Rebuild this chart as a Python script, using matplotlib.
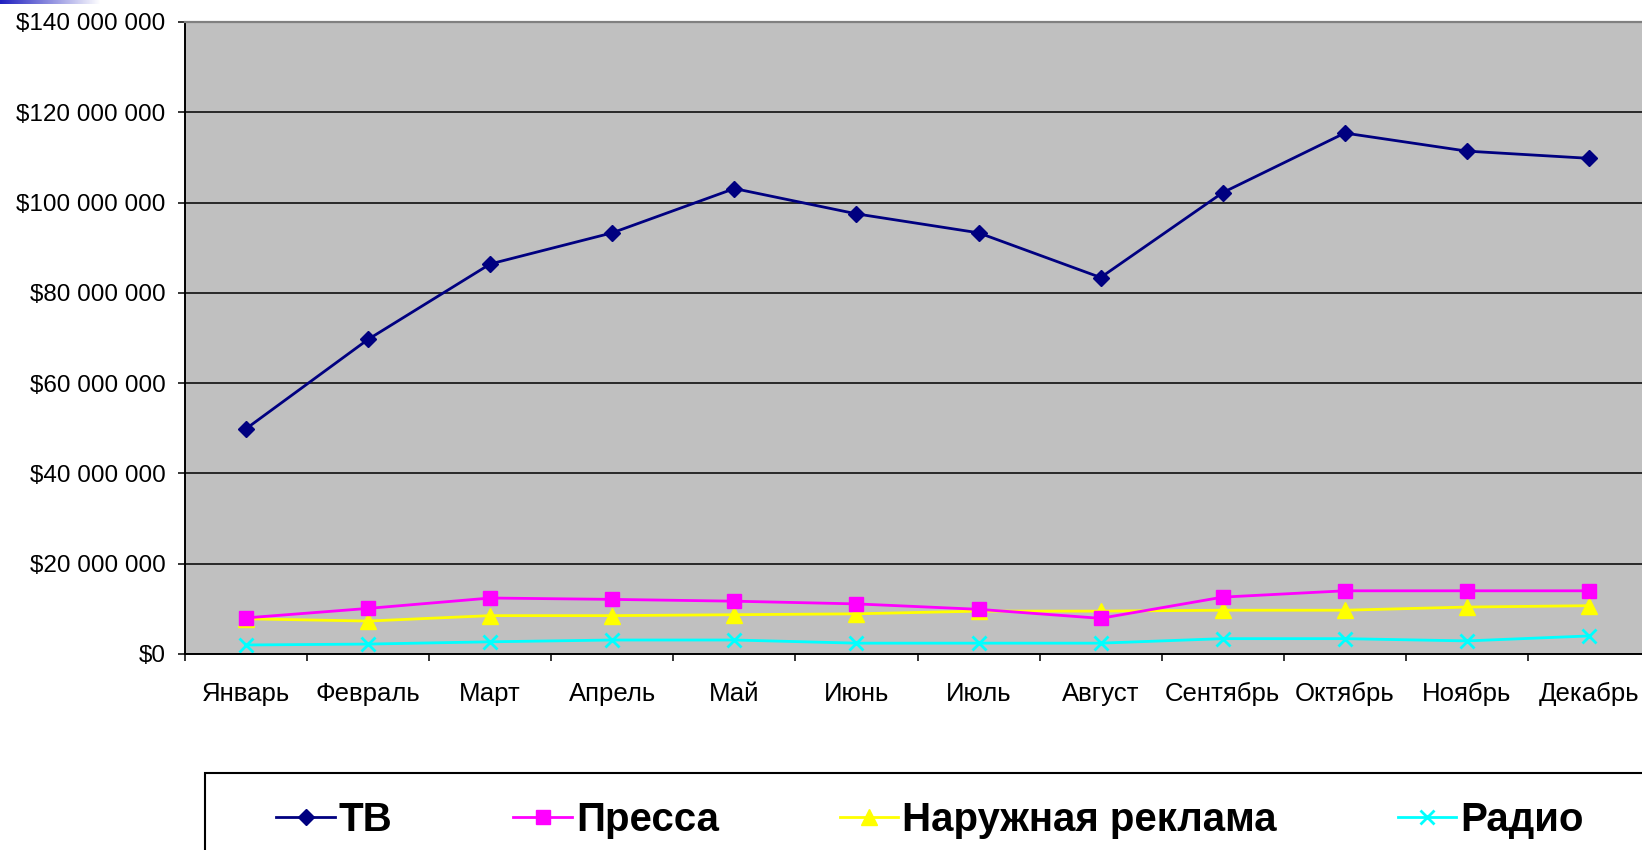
import numpy as np
import matplotlib
matplotlib.use("Agg")
import matplotlib.pyplot as plt
from matplotlib.patches import Rectangle
from matplotlib.ticker import FuncFormatter

months = ['Январь', 'Февраль', 'Март', 'Апрель', 'Май', 'Июнь',
          'Июль', 'Август', 'Сентябрь', 'Октябрь', 'Ноябрь', 'Декабрь']

# values in millions of dollars
tv = [49.9, 69.7, 86.4, 93.3, 103.1, 97.5, 93.3, 83.4, 102.2, 115.4, 111.4, 109.8]
press = [8.0, 10.1, 12.4, 12.1, 11.7, 11.1, 9.9, 7.9, 12.6, 14.0, 14.0, 14.0]
outdoor = [7.8, 7.3, 8.5, 8.5, 8.7, 8.9, 9.5, 9.5, 9.7, 9.7, 10.4, 10.7]
radio = [2.0, 2.2, 2.7, 3.1, 3.1, 2.4, 2.4, 2.4, 3.4, 3.4, 2.9, 4.0]

series_names = ['ТВ', 'Пресса', 'Наружная реклама', 'Радио']

W, H = 1642, 850
fig = plt.figure(figsize=(W / 100, H / 100), dpi=100)
fig.patch.set_facecolor('white')

# plot area (right edge runs past the figure edge, as in the original)
left, right, top, bottom = 185, 1650, 22, 654
ax = fig.add_axes([left / W, 1 - bottom / H, (right - left) / W, (bottom - top) / H])
ax.set_facecolor('#C0C0C0')

x = np.arange(len(months))
ax.plot(x, np.array(tv) * 1e6, color='#000080', lw=2, marker='D', ms=8,
        label=series_names[0], zorder=5)
ax.plot(x, np.array(press) * 1e6, color='#FF00FF', lw=2, marker='s', ms=10,
        label=series_names[1], zorder=4)
ax.plot(x, np.array(outdoor) * 1e6, color='#FFFF00', lw=2, marker='^', ms=12,
        label=series_names[2], zorder=3)
ax.plot(x, np.array(radio) * 1e6, color='#00FFFF', lw=2, marker='x', ms=10, mew=2,
        label=series_names[3], zorder=2)

ax.set_xlim(-0.5, 11.5)
ax.set_ylim(0, 140e6)
ax.set_yticks(np.arange(0, 140e6 + 1, 20e6))
ax.yaxis.set_major_formatter(FuncFormatter(
    lambda v, p: '$' + f'{int(v):,}'.replace(',', ' ')))
ax.grid(axis='y', color='black', lw=1.1)
ax.set_axisbelow(True)

ax.set_xticks(x)
ax.set_xticklabels(months)
ax.set_xticks(np.arange(-0.5, 12, 1), minor=True)
ax.tick_params(axis='x', which='major', length=0, pad=20, labelsize=18.5)
ax.tick_params(axis='x', which='minor', length=5, width=1.1, direction='out')
ax.tick_params(axis='y', length=5, width=1.1, pad=9, labelsize=17.5)
for lbl in ax.get_xticklabels() + ax.get_yticklabels():
    lbl.set_family(['Liberation Sans', 'DejaVu Sans'])

for s in ['left', 'bottom']:
    ax.spines[s].set_color('black')
    ax.spines[s].set_linewidth(1.4)
ax.spines['top'].set_color('#808080')
ax.spines['top'].set_linewidth(1.6)
ax.spines['right'].set_visible(False)

# legend box (bottom runs off the figure)
fig.patches.append(Rectangle((205 / W, -0.05), (1700 - 205) / W, 0.05 + (1 - 773 / H),
                             transform=fig.transFigure, facecolor='white',
                             edgecolor='black', lw=1.5))
handles, labels = ax.get_legend_handles_labels()
leg = fig.legend(handles, labels, loc='center', bbox_to_anchor=(930 / W, 1 - 820 / H),
                 ncol=4, frameon=False, handlelength=1.45, handletextpad=0.1,
                 columnspacing=3.0,
                 prop={'family': ['Liberation Sans', 'DejaVu Sans'],
                       'weight': 'bold', 'size': 29})

# small gradient bar in the top-left corner
gax = fig.add_axes([0, 1 - 4 / H, 100 / W, 4 / H])
gax.imshow(np.linspace(0, 1, 100).reshape(1, -1), aspect='auto',
           cmap=matplotlib.colors.LinearSegmentedColormap.from_list('g', ['#2020C0', '#FFFFFF']))
gax.axis('off')

fig.savefig('out.png', dpi=100)
